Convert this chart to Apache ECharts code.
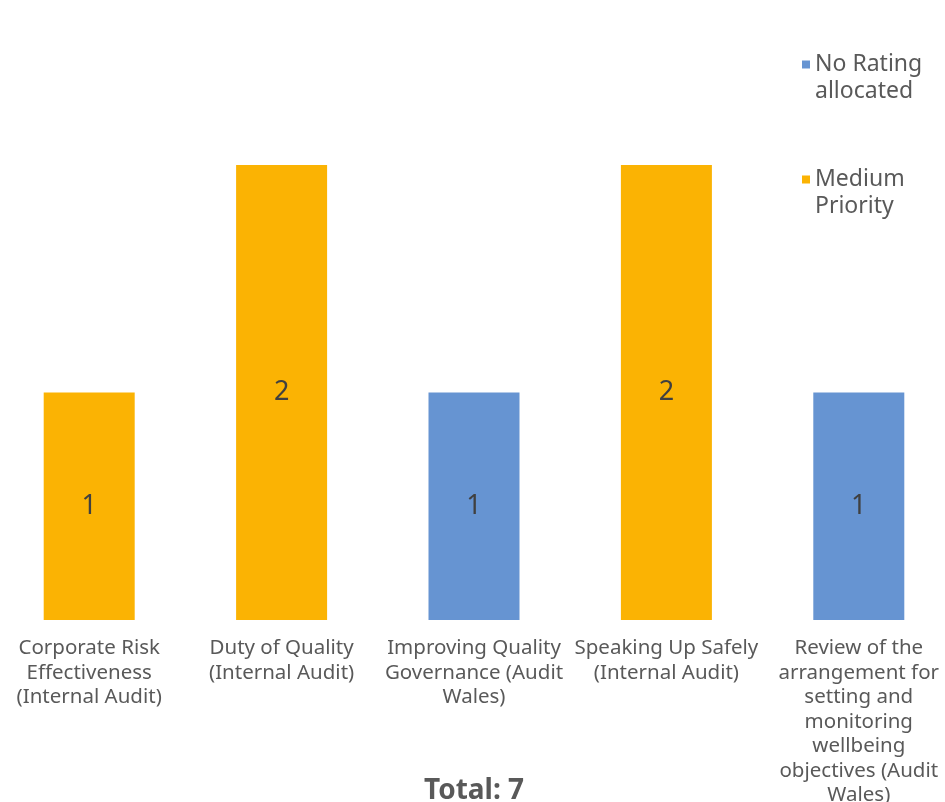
<!DOCTYPE html>
<html><head><meta charset="utf-8">
<script src="https://cdn.jsdelivr.net/npm/echarts@6/dist/echarts.min.js"></script>
<style>html,body{margin:0;padding:0;background:#fff;overflow:hidden}#c{width:962px;height:802px;margin-left:-7px}</style>
</head><body><div id="c"></div>
<script>
const categories = [
  'Corporate Risk\nEffectiveness\n(Internal Audit)',
  'Duty of Quality\n(Internal Audit)',
  'Improving Quality\nGovernance (Audit\nWales)',
  'Speaking Up Safely\n(Internal Audit)',
  'Review of the\narrangement for\nsetting and\nmonitoring\nwellbeing\nobjectives (Audit\nWales)'
];
const seriesNames = ['No Rating allocated', 'Medium Priority'];
const legendLabels = ['No Rating\nallocated', 'Medium\nPriority'];
const noRating = ['-', '-', 1, '-', 1];
const medium = [1, 2, '-', 2, '-'];
const titleText = 'Total: 7';

const FONT = 'Noto Sans';
const chart = echarts.init(document.getElementById('c'));
chart.setOption({
  textStyle: { fontFamily: FONT },
  title: {
    text: titleText, left: 'center', top: 772,
    textStyle: { fontFamily: FONT, fontSize: 28, fontWeight: 'bold', color: '#595959' }
  },
  legend: {
    orient: 'vertical', left: 809, top: 24, padding: 0, itemGap: 34,
    icon: 'rect', itemWidth: 8, itemHeight: 8,
    data: seriesNames,
    formatter: n => ' \n' + legendLabels[seriesNames.indexOf(n)],
    textStyle: { fontFamily: FONT, fontSize: 23, lineHeight: 27, color: '#595959' }
  },
  grid: { left: 0, right: 0, top: 165, bottom: 182, containLabel: false, outerBoundsMode: 'none' },
  xAxis: {
    type: 'category', data: categories,
    axisLine: { show: false }, axisTick: { show: false },
    axisLabel: { interval: 0, margin: 16, fontFamily: FONT, fontSize: 20.5, lineHeight: 24.5, color: '#595959', align: 'center' }
  },
  yAxis: {
    type: 'value', min: 0, max: 2, interval: 1, show: false,
    splitLine: { show: false }
  },
  series: [
    {
      name: seriesNames[0], type: 'bar', stack: 't', data: noRating, barWidth: 91,
      itemStyle: { color: '#6694D2' },
      label: { show: true, position: 'inside', fontFamily: FONT, fontSize: 27, color: '#404040' }
    },
    {
      name: seriesNames[1], type: 'bar', stack: 't', data: medium, barWidth: 91,
      itemStyle: { color: '#FBB303' },
      label: { show: true, position: 'inside', fontFamily: FONT, fontSize: 27, color: '#404040' }
    }
  ]
});
</script></body></html>
